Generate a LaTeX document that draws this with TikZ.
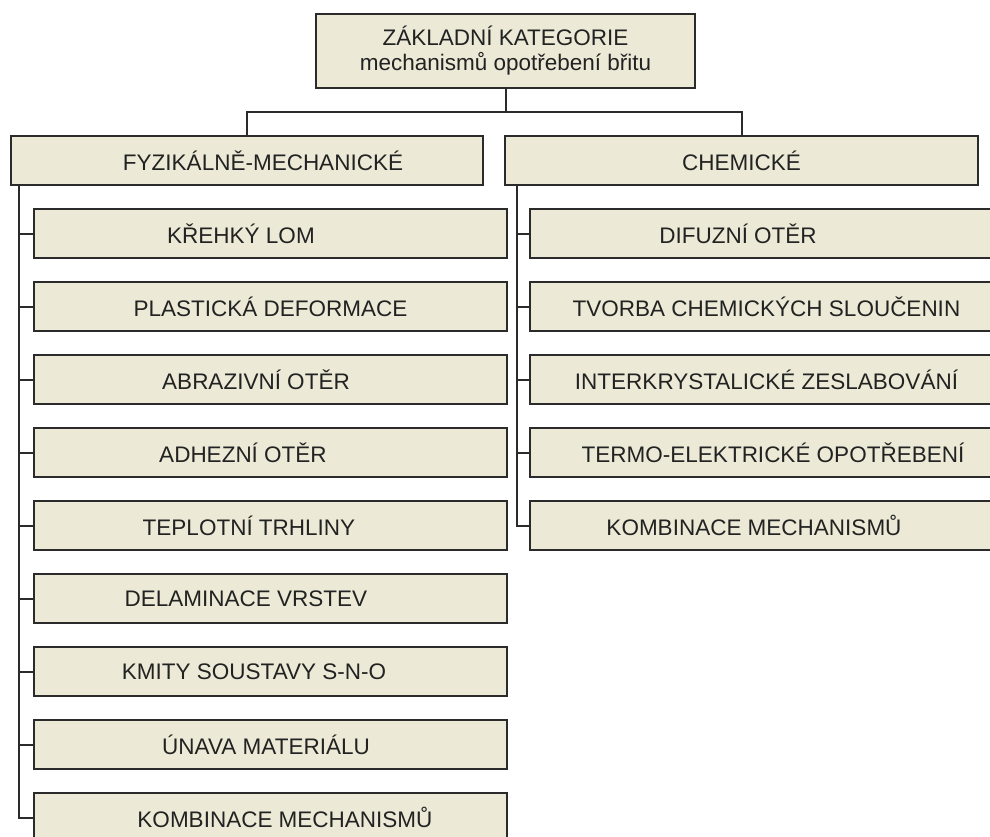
\documentclass[tikz,border=0pt]{standalone}
\usepackage{fontspec}
\setmainfont{Liberation Sans}
\definecolor{boxfill}{HTML}{ECEAD6}
\definecolor{boxline}{HTML}{2B2B2B}
\definecolor{txt}{HTML}{222222}
\begin{document}
\begin{tikzpicture}[x=1pt,y=-1pt,
  box/.style={draw=boxline, fill=boxfill, line width=2pt, rectangle, anchor=north west,
    inner sep=0pt, text=txt, font=\fontsize{22.5}{25}\selectfont, align=center},
  kid/.style={box, minimum width=473pt, minimum height=49pt},
  link/.style={draw=boxline, line width=2pt}]
\clip (0,0) rectangle (990,836);
\fill[white] (0,0) rectangle (990,836);
% top
\node[box, minimum width=379pt, minimum height=74pt] (top) at (315,13)
  {ZÁKLADNÍ KATEGORIE\\mechanismů opotřebení břitu};
\node[box, minimum width=472pt, minimum height=49pt] (fyz) at (10,135) {\hspace*{32pt}FYZIKÁLNĚ-MECHANICKÉ};
\node[box, minimum width=473pt, minimum height=49pt] (chem) at (504,135) {CHEMICKÉ};
% left children
\node[kid] (l1) at (33,208) {\hspace*{-59pt}KŘEHKÝ LOM};
\node[kid] (l2) at (33,281) {PLASTICKÁ DEFORMACE};
\node[kid] (l3) at (33,354) {\hspace*{-29pt}ABRAZIVNÍ OTĚR};
\node[kid] (l4) at (33,427) {\hspace*{-55pt}ADHEZNÍ OTĚR};
\node[kid] (l5) at (33,500) {\hspace*{-43pt}TEPLOTNÍ TRHLINY};
\node[kid] (l6) at (33,573) {\hspace*{-49pt}DELAMINACE VRSTEV};
\node[kid] (l7) at (33,646) {\hspace*{-33pt}KMITY SOUSTAVY S-N-O};
\node[kid] (l8) at (33,719) {\hspace*{-9pt}ÚNAVA MATERIÁLU};
\node[kid] (l9) at (33,792) {\hspace*{29pt}KOMBINACE MECHANISMŮ};
% right children
\node[kid] (r1) at (529,208) {\hspace*{-57pt}DIFUZNÍ OTĚR};
\node[kid] (r2) at (529,281) {TVORBA CHEMICKÝCH SLOUČENIN};
\node[kid] (r3) at (529,354) {INTERKRYSTALICKÉ ZESLABOVÁNÍ};
\node[kid] (r4) at (529,427) {\hspace*{13pt}TERMO-ELEKTRICKÉ OPOTŘEBENÍ};
\node[kid] (r5) at (529,500) {\hspace*{-25pt}KOMBINACE MECHANISMŮ};
% connectors
\coordinate (split) at ([yshift=-23pt]top.south);
\draw[link] (top.south) -- (split) -| (fyz.north);
\draw[link] (split) -| (chem.north);
\foreach \n in {l1,l2,l3,l4,l5,l6,l7,l8,l9}
  \draw[link] ([xshift=9pt]fyz.south west) |- (\n.west);
\foreach \n in {r1,r2,r3,r4,r5}
  \draw[link] ([xshift=13pt]chem.south west) |- (\n.west);
\end{tikzpicture}
\end{document}
